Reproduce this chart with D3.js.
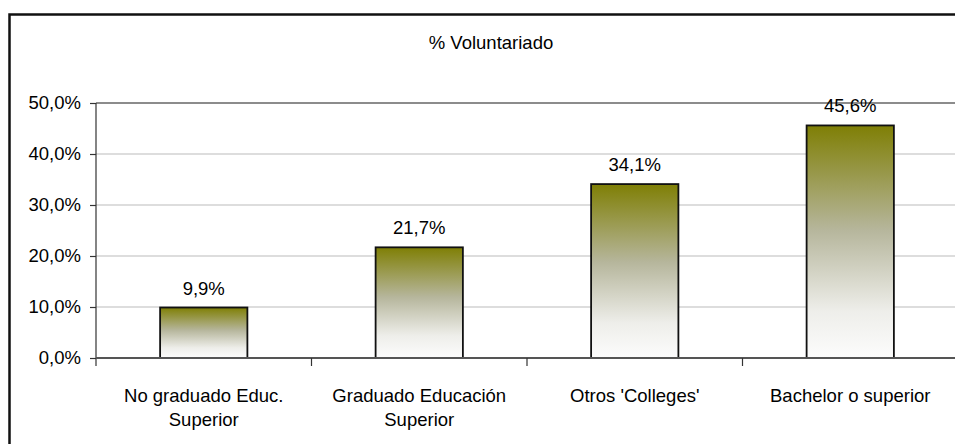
<!DOCTYPE html>
<html>
<head>
<meta charset="utf-8">
<script src="https://cdn.jsdelivr.net/npm/d3@7"></script>
<style>
  body { margin: 0; background: #fff; }
  text { font-family: "Liberation Sans", Arial, sans-serif; fill: #000; }
</style>
</head>
<body>
<svg id="chart" width="955" height="444"></svg>
<script>
// data
var categories = ["No graduado Educ. Superior", "Graduado Educación Superior", "Otros 'Colleges'", "Bachelor o superior"];
var values = [9.9, 21.7, 34.1, 45.6];
var yTicks = [0, 10, 20, 30, 40, 50];
var title = "% Voluntariado";

var svg = d3.select("#chart");
var fontSize = 18.5;

var locale = d3.formatLocale({ decimal: ",", thousands: ".", grouping: [3], currency: ["", "€"] });
var fmt1 = locale.format(".1f");

var plot = { left: 96, right: 958, top: 103, bottom: 358 };

var x = d3.scaleBand()
    .domain(categories)
    .range([plot.left, plot.right])
    .paddingInner(0.595)
    .paddingOuter(0.2975);

var xBand = d3.scaleBand().domain(categories).range([plot.left, plot.right]);

var y = d3.scaleLinear().domain([0, 50]).range([plot.bottom, plot.top]);

// gradient for the bars
var grad = svg.append("defs").append("linearGradient")
    .attr("id", "olive")
    .attr("x1", 0).attr("y1", 0).attr("x2", 0).attr("y2", 1);
grad.append("stop").attr("offset", "0%").attr("stop-color", "#7f7f05");
grad.append("stop").attr("offset", "45%").attr("stop-color", "#b6b69c");
grad.append("stop").attr("offset", "80%").attr("stop-color", "#eeeeea");
grad.append("stop").attr("offset", "100%").attr("stop-color", "#fcfcfc");

// outer frame
svg.append("rect")
    .attr("x", 9.5).attr("y", 14.5)
    .attr("width", 980).attr("height", 460)
    .attr("fill", "none")
    .attr("stroke", "#111")
    .attr("stroke-width", 2.5);

// title
svg.append("text")
    .attr("x", 491).attr("y", 49)
    .attr("text-anchor", "middle")
    .style("font-size", fontSize + "px")
    .text(title);

// gridlines
svg.append("g")
  .selectAll("line")
  .data(yTicks.filter(function(d) { return d > 0; }))
  .enter().append("line")
    .attr("x1", plot.left).attr("x2", 955)
    .attr("y1", function(d) { return y(d); })
    .attr("y2", function(d) { return y(d); })
    .attr("stroke", function(d) { return d == 50 ? "#8c8c8c" : "#d2d2d2"; })
    .attr("stroke-width", function(d) { return d == 50 ? 2 : 1.5; });

// y axis
var yAxis = svg.append("g")
    .attr("transform", "translate(" + plot.left + ",0)")
    .call(d3.axisLeft(y).tickValues(yTicks).tickSize(6).tickPadding(9)
      .tickFormat(function(d) { return fmt1(d) + "%"; }));
yAxis.select(".domain").remove();
yAxis.selectAll(".tick line").attr("stroke", "#333").attr("stroke-width", 1.2);
yAxis.selectAll("text").style("font-size", fontSize + "px").attr("font-family", null);
yAxis.append("line")
    .attr("x1", 0).attr("x2", 0)
    .attr("y1", plot.top).attr("y2", plot.bottom + 8)
    .attr("stroke", "#333").attr("stroke-width", 1.2);

// bars
svg.append("g")
  .selectAll("rect")
  .data(values)
  .enter().append("rect")
    .attr("x", function(d, i) { return x(categories[i]); })
    .attr("y", function(d) { return y(d); })
    .attr("width", x.bandwidth())
    .attr("height", function(d) { return y(0) - y(d); })
    .attr("fill", "url(#olive)")
    .attr("stroke", "#111")
    .attr("stroke-width", 1.8);

// x axis
var xAxis = svg.append("g")
    .attr("transform", "translate(0," + plot.bottom + ")")
    .call(d3.axisBottom(xBand).tickSize(0).tickFormat(""));
xAxis.select(".domain").attr("stroke", "#555").attr("stroke-width", 2)
    .attr("d", "M" + plot.left + ",0H955");
xAxis.selectAll(".tick").remove();
xAxis.selectAll(".btick")
  .data(categories.slice(1))
  .enter().append("line")
    .attr("class", "btick")
    .attr("x1", function(d) { return xBand(d); })
    .attr("x2", function(d) { return xBand(d); })
    .attr("y1", 0).attr("y2", 8)
    .attr("stroke", "#333").attr("stroke-width", 1.2);

// value labels
svg.append("g")
  .selectAll("text")
  .data(values)
  .enter().append("text")
    .attr("x", function(d, i) { return x(categories[i]) + x.bandwidth() / 2; })
    .attr("y", function(d) { return y(d) - 13; })
    .attr("text-anchor", "middle")
    .style("font-size", fontSize + "px")
    .text(function(d) { return fmt1(d) + "%"; });

// category labels
var catLabels = svg.append("g")
  .selectAll("text")
  .data(categories)
  .enter().append("text")
    .attr("x", function(d) { return xBand(d) + xBand.bandwidth() / 2; })
    .attr("y", 402)
    .attr("text-anchor", "middle")
    .style("font-size", fontSize + "px")
    .text(function(d) { return d; });

wrapText(catLabels, xBand.bandwidth() * 0.88);

function wrapText(text, width) {
  // wrap long labels onto several lines
  text.each(function () {
    var text = d3.select(this),
        words = text.text().split(/\s+/).reverse(),
        word,
        line = [],
        lineNumber = 0,
        lineHeight = 24,
        x = text.attr("x"),
        y = +text.attr("y"),
        tspan = text.text(null).append("tspan").attr("x", x).attr("y", y);
    while (word = words.pop()) {
      line.push(word);
      tspan.text(line.join(" "));
      if (tspan.node().getComputedTextLength() > width && line.length > 1) {
        line.pop();
        tspan.text(line.join(" "));
        line = [word];
        tspan = text.append("tspan")
                    .attr("x", x)
                    .attr("y", y + (++lineNumber) * lineHeight)
                    .text(word);
      }
    }
  });
}
</script>
</body>
</html>
